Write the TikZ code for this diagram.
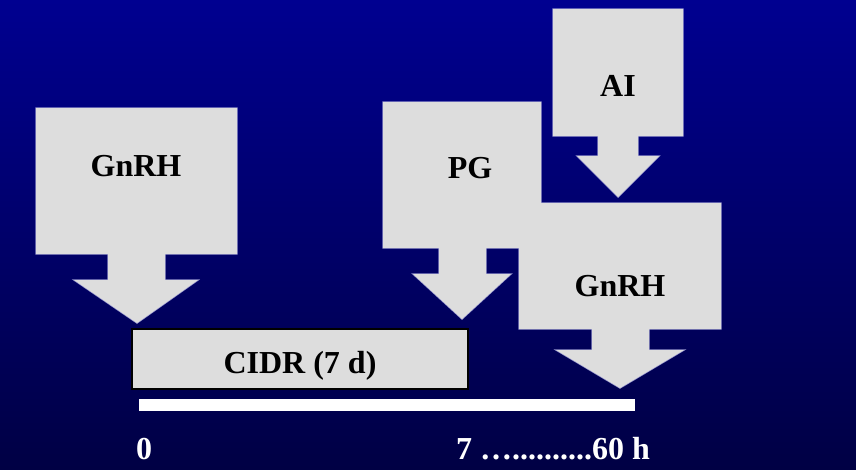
\documentclass[tikz,border=0pt]{standalone}
\usepackage{fontspec}
\setmainfont{Liberation Serif}
\definecolor{bgtop}{RGB}{0,0,144}
\definecolor{bgbot}{RGB}{0,0,68}
\definecolor{boxgrey}{RGB}{221,221,221}
\definecolor{edgeblue}{RGB}{150,150,205}
\tikzset{
  edge/.style={draw=edgeblue, line width=1.4pt, line join=miter},
  body/.style={fill=boxgrey},
  lbl/.style={font=\bfseries\fontsize{32}{36}\selectfont, text=black, anchor=base, inner sep=0pt},
  axislbl/.style={font=\bfseries\fontsize{32}{36}\selectfont, text=white, anchor=base west, inner sep=0pt},
}
\begin{document}
\begin{tikzpicture}[x=1pt,y=-1pt]
  \useasboundingbox (0,0) rectangle (856,469);
  \shade[top color=bgtop, bottom color=bgbot] (0,0) rectangle (856,469);

  % outlines first, fills on top so overlapping block arrows merge
  \foreach \style in {edge,body}{
    \path[\style] (36,108) -- (237,108) -- (237,254) -- (165,254) -- (165,280)
      -- (198,280) -- (137,323) -- (74,280) -- (108,280) -- (108,254) -- (36,254) -- cycle;
    \path[\style] (383,102) -- (541,102) -- (541,248) -- (486,248) -- (486,274)
      -- (511,274) -- (462,319) -- (413,274) -- (439,274) -- (439,248) -- (383,248) -- cycle;
    \path[\style] (553,9) -- (683,9) -- (683,136) -- (638,136) -- (638,156)
      -- (659,156) -- (618,197) -- (577,156) -- (598,156) -- (598,136) -- (553,136) -- cycle;
    \path[\style] (519,203) -- (721,203) -- (721,329) -- (649,329) -- (649,350)
      -- (684,350) -- (620,388) -- (556,350) -- (592,350) -- (592,329) -- (519,329) -- cycle;
  }

  \node[lbl] (gnrh1) at (136,176) {GnRH};
  \node[lbl] (pg) at (470,178) {PG};
  \node[lbl] (ai) at (618,96) {AI};
  \node[lbl] (gnrh2) at (620,296) {GnRH};

  % CIDR insert
  \node[draw=black, line width=1.5pt, fill=boxgrey, minimum width=336pt,
        minimum height=60pt, inner sep=0pt] (cidr) at (300,359) {};
  \node[lbl] (cidrtxt) at (300,373) {CIDR (7 d)};

  % time axis
  \fill[white] (139,399) rectangle (635,411);
  \node[axislbl] (t0) at (136,459) {0};
  \node[axislbl] (t7) at (456,459) {7 …..........60 h};
\end{tikzpicture}
\end{document}
